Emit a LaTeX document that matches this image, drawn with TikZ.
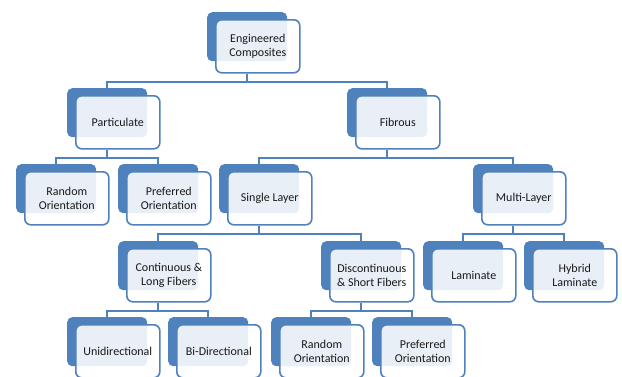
\documentclass[tikz,border=0pt]{standalone}
\usepackage{fontspec}
\setmainfont{Carlito}
\definecolor{boxblue}{RGB}{79,129,189}

\begin{document}
\begin{tikzpicture}[x=1pt,y=-1pt]
\tikzstyle backbox=[fill=boxblue,rounded corners=5pt,minimum width=80pt,minimum height=49pt,anchor=north west]
\tikzstyle frontbox=[draw=boxblue,line width=1.6pt,fill=white,fill opacity=0.88,text opacity=1,rounded corners=6pt,minimum width=84pt,minimum height=53pt,anchor=north west,align=center,text=black!90,font=\fontsize{12}{13.5}\selectfont]
\tikzstyle link=[draw=boxblue,line width=2pt]
\useasboundingbox (0,0) rectangle (622,376);
% blocks: back plate + front card
\foreach \n/\x/\y/\t in {ec/207/12/{Engineered\\Composites},
  pt/67/88/Particulate, fb/347/88/Fibrous,
  ro1/16/164/{Random\\Orientation}, po1/118/164/{Preferred\\Orientation},
  sl/219/164/{Single Layer}, ml/473/164/Multi-Layer,
  cl/118/241/{Continuous \&\\Long Fibers}, ds/321/241/{Discontinuous\\\& Short Fibers},
  lm/423/241/Laminate, hl/524/241/{Hybrid\\Laminate},
  ud/67/317/Unidirectional, bd/168/317/Bi-Directional,
  ro2/271/317/{Random\\Orientation}, po2/372/317/{Preferred\\Orientation}}{
  \node[backbox] (\n-b) at (\x,\y) {};
  \node[frontbox] (\n) at (\x+8,\y+7) {\t};
}
% tree connectors
\foreach \p/\c in {ec/pt,ec/fb,pt/ro1,pt/po1,fb/sl,fb/ml,sl/cl,sl/ds,ml/lm,ml/hl,cl/ud,cl/bd,ds/ro2,ds/po2}
  \draw[link] (\p-b |- \p.south) -- ++(0,8) -| (\c-b.north);
\end{tikzpicture}
\end{document}
